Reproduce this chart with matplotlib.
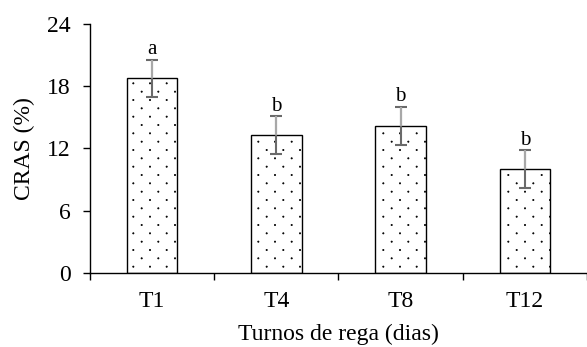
import matplotlib
matplotlib.use("Agg")
import matplotlib.pyplot as plt
import matplotlib.hatch as mhatch
from matplotlib.path import Path
import numpy as np

# Data
treatments = ["T1", "T4", "T8", "T12"]
cras = [18.75, 13.3, 14.15, 10.0]
cras_err = [1.8, 1.8, 1.85, 1.8]
letters = ["a", "b", "b", "b"]
y_ticks = [0, 6, 12, 18, 24]


# '.' hatch: staggered dots, rows twice as close as columns (like the original)
class SparseDots(mhatch.HatchPatternBase):
    radius = 0.0065

    def __init__(self, hatch, density):
        self.num_rows = hatch.count('.') * density * 2
        self.circle = Path.unit_circle()
        self.centres = []
        n = self.num_rows
        if n:
            for r in range(n + 1):
                y = r / n
                if r % 2 == 0:
                    xs = np.arange(0, n // 2 + 1) * 2.0 / n
                else:
                    xs = (np.arange(0, n // 2) * 2.0 + 1) / n
                self.centres += [(xx, y) for xx in xs]
        self.num_vertices = len(self.centres) * len(self.circle.vertices)

    def set_vertices_and_codes(self, vertices, codes):
        nv = len(self.circle.vertices)
        shape = self.circle.vertices * self.radius
        for i, (cx, cy) in enumerate(self.centres):
            vertices[i * nv:(i + 1) * nv] = shape + (cx, cy)
            codes[i * nv:(i + 1) * nv] = self.circle.codes


mhatch._hatch_types = [SparseDots if t is mhatch.SmallFilledCircles else t
                       for t in mhatch._hatch_types]

plt.rcParams['font.family'] = ['Liberation Serif', 'DejaVu Serif']
plt.rcParams['hatch.linewidth'] = 0.5

fig = plt.figure(figsize=(5.87, 3.47), dpi=100)
ax = fig.add_axes([0.1533, 0.2141, 0.8467, 0.7167])

x = np.arange(len(treatments))
ax.bar(x, cras, width=0.405, facecolor='white', edgecolor='black',
       linewidth=1.0, hatch='.', zorder=2)

# error bars: darker lower half + caps, lighter upper stem
ax.errorbar(x, cras, yerr=cras_err, fmt='none', ecolor='#6a6a6a',
            elinewidth=1.5, capsize=4.0, capthick=1.5, zorder=3)
ax.vlines(x, cras, np.array(cras) + np.array(cras_err), color='#a8a8a8',
          linewidth=1.5, zorder=4)

for xi, v, e, lab in zip(x, cras, cras_err, letters):
    ax.annotate(lab, (xi, v + e), xytext=(0, 4), textcoords='offset points',
                ha='center', va='baseline', fontsize=15)

ax.set_ylim(0, 24)
ax.set_yticks(y_ticks)
ax.set_xlim(-0.5, 3.444)

# tick marks at category boundaries, labels centred on bars
ax.set_xticks(np.arange(-0.5, len(treatments), 1.0))
ax.set_xticklabels([])
ax.set_xticks(x, minor=True)
ax.set_xticklabels(treatments, minor=True)
ax.tick_params(axis='x', which='major', direction='out', length=4.8, width=1)
ax.tick_params(axis='x', which='minor', length=0, pad=13, labelsize=17)
ax.tick_params(axis='y', direction='out', length=4.8, width=1, pad=9, labelsize=17)

for s in ['top', 'right']:
    ax.spines[s].set_visible(False)
ax.spines['left'].set_linewidth(1)
ax.spines['bottom'].set_linewidth(1)

ax.set_ylabel("CRAS (%)", fontsize=17, labelpad=9)
ax.set_xlabel("Turnos de rega (dias)", fontsize=17, labelpad=9)

fig.savefig("out.png", dpi=100)
